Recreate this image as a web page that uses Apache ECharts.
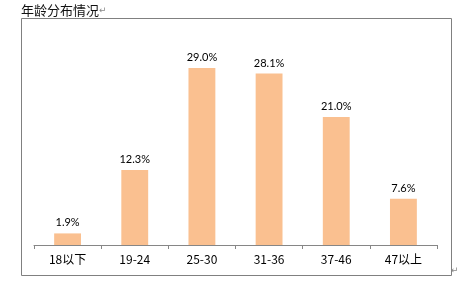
<!DOCTYPE html>
<html>
<head>
<meta charset="utf-8">
<script src="https://cdn.jsdelivr.net/npm/echarts@6/dist/echarts.min.js"></script>
<style>
html,body{margin:0;padding:0;background:#fff;}
#c{width:476px;height:284px;}
</style>
</head>
<body>
<div id="c"></div>
<script>
var categories = ['18以下', '19-24', '25-30', '31-36', '37-46', '47以上'];
var values = [1.9, 12.3, 29.0, 28.1, 21.0, 7.6];
var titleText = '年龄分布情况';

var chart = echarts.init(document.getElementById('c'));
chart.setOption({
  animation: false,
  backgroundColor: '#ffffff',
  grid: {left: 34, right: 39, top: 62, bottom: 39},
  xAxis: {
    type: 'category',
    data: categories,
    boundaryGap: true,
    axisLine: {lineStyle: {color: '#868686', width: 1}},
    axisTick: {show: true, length: 4, lineStyle: {color: '#868686'}},
    axisLabel: {color: '#000', fontSize: 12, margin: 8, fontFamily: '"Noto Sans CJK SC", sans-serif'}
  },
  yAxis: {
    type: 'value', min: 0, max: 30, show: false,
    splitLine: {show: false}
  },
  series: [{
    type: 'bar',
    data: values,
    barWidth: '40%',
    itemStyle: {color: '#FAC090'},
    label: {
      show: true, position: 'top', distance: 5,
      color: '#000', fontSize: 11, fontFamily: 'Lato, "Open Sans", sans-serif',
      formatter: function (p) { return p.value.toFixed(1) + '%'; }
    }
  }],
  graphic: [
    {type: 'rect', shape: {x: 21.5, y: 18.5, width: 430, height: 257}, style: {fill: 'none', stroke: '#808080', lineWidth: 1}, z: -1},
    {type: 'text', left: 21, top: 4, style: {text: titleText, fill: '#111', fontSize: 13, fontFamily: '"Noto Sans CJK SC", sans-serif'}},
    {type: 'text', left: 99, top: 6, style: {text: '↵', fill: '#888', fontSize: 9, fontFamily: '"DejaVu Sans", sans-serif'}},
    {type: 'text', left: 451, top: 266, style: {text: '↵', fill: '#888', fontSize: 9, fontFamily: '"DejaVu Sans", sans-serif'}}
  ]
});
</script>
</body>
</html>
